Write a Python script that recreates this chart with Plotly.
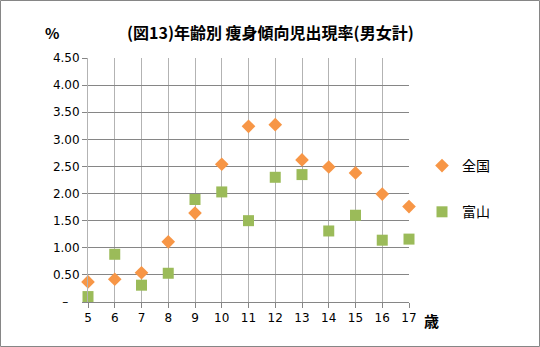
import plotly.graph_objects as go

ages = [5, 6, 7, 8, 9, 10, 11, 12, 13, 14, 15, 16, 17]
zenkoku = [0.37, 0.42, 0.54, 1.11, 1.64, 2.54, 3.24, 3.27, 2.62, 2.49, 2.38, 1.99, 1.76]
toyama = [0.10, 0.88, 0.31, 0.53, 1.89, 2.03, 1.50, 2.30, 2.35, 1.31, 1.60, 1.14, 1.16]
y_ticks = [0, 0.5, 1.0, 1.5, 2.0, 2.5, 3.0, 3.5, 4.0, 4.5]
y_ticktext = ["–\u00a0\u00a0\u00a0"] + [f"{v:.2f}" for v in y_ticks[1:]]

W, H = 540, 347
L, R, T, B = 88, 131, 58, 45
pw, ph = W - L - R, H - T - B

jp = "Noto Sans CJK JP"

fig = go.Figure()
fig.add_trace(go.Scatter(
    x=ages, y=zenkoku, mode="markers", name="全国", legendgroup="a",
    marker=dict(symbol="diamond", size=10.5, color="#F79646"),
    cliponaxis=False,
))
fig.add_trace(go.Scatter(
    x=ages, y=toyama, mode="markers", name="富山", legendgroup="b",
    marker=dict(symbol="square", size=11, color="#9BBB59"),
    cliponaxis=False,
))

def px_x(p):
    return (p - L) / pw

def px_y(p):
    return (H - B - p) / ph

fig.update_layout(
    width=W, height=H,
    margin=dict(l=L, r=R, t=T, b=B),
    paper_bgcolor="white", plot_bgcolor="white",
    font=dict(family=jp, size=12, color="#000000"),
    showlegend=True,
    legend=dict(
        x=px_x(422), y=px_y(150), xanchor="left", yanchor="top",
        font=dict(family=jp, size=14, color="#000000"),
        tracegroupgap=25, itemwidth=30, bgcolor="rgba(0,0,0,0)",
    ),
    xaxis=dict(
        range=[5, 17], tickvals=ages, ticktext=[str(a) for a in ages],
        showgrid=True, gridcolor="#B3B3B3", gridwidth=1,
        showline=True, linecolor="#868686", linewidth=1,
        ticks="outside", ticklen=5, tickcolor="#868686",
        tickfont=dict(family="DejaVu Sans", size=12, color="#000000"),
        zeroline=False, fixedrange=True,
    ),
    yaxis=dict(
        range=[0, 4.5], tickvals=y_ticks, ticktext=y_ticktext,
        showgrid=True, gridcolor="#868686", gridwidth=1,
        showline=True, linecolor="#B3B3B3", linewidth=1,
        ticks="outside", ticklen=5, tickcolor="#868686",
        tickfont=dict(family="DejaVu Sans", size=12, color="#000000"),
        zeroline=False, fixedrange=True,
    ),
    annotations=[
        dict(text="<b>(図13)年齢別 痩身傾向児出現率(男女計)</b>", x=px_x(270), y=px_y(32),
             xref="paper", yref="paper", xanchor="center", yanchor="middle",
             showarrow=False, font=dict(family=jp, size=16, color="#000000")),
        dict(text="<b>%</b>", x=px_x(52), y=px_y(32),
             xref="paper", yref="paper", xanchor="center", yanchor="middle",
             showarrow=False, font=dict(family=jp, size=15, color="#000000")),
        dict(text="<b>歳</b>", x=px_x(432), y=px_y(320),
             xref="paper", yref="paper", xanchor="center", yanchor="middle",
             showarrow=False, font=dict(family=jp, size=15, color="#000000")),
    ],
    shapes=[
        dict(type="rect", xref="paper", yref="paper",
             x0=px_x(0.5), x1=px_x(539.5), y0=px_y(346.5), y1=px_y(0.5),
             line=dict(color="#868686", width=1), layer="above"),
    ],
)

fig.write_html("out.html")
